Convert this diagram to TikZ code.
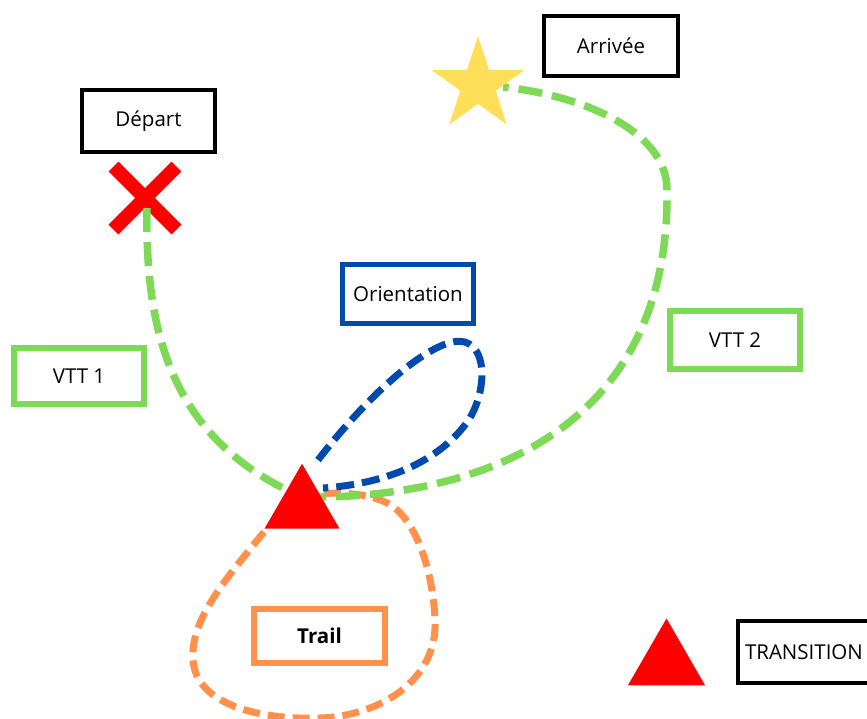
\documentclass[tikz,border=0pt]{standalone}
\usepackage{fontspec}
\setmainfont{Open Sans}
\usetikzlibrary{shapes.geometric,shapes.misc,calc}
\definecolor{vgreen}{HTML}{7ED957}
\definecolor{oblue}{HTML}{004AAD}
\definecolor{torange}{HTML}{FF914D}
\definecolor{syellow}{HTML}{FFDE59}
\definecolor{xred}{HTML}{FF0000}
\pgfdeclarelayer{xlayer}
\pgfdeclarelayer{lines}
\pgfsetlayers{xlayer,lines,main}
\begin{document}
\begin{tikzpicture}[x=1pt,y=-1pt,
  every node/.style={font=\fontsize{20.5}{24}\selectfont, inner sep=0pt, outer sep=0pt},
  labelbox/.style={draw, rectangle, align=center, fill=white},
  blackbox/.style={labelbox, draw=black, line width=4pt},
  greenbox/.style={labelbox, draw=vgreen, line width=6pt},
  bluebox/.style={labelbox, draw=oblue, line width=5pt},
  orangebox/.style={labelbox, draw=torange, line width=6pt},
  tribox/.style={regular polygon, regular polygon sides=3, fill=xred, draw=none},
  greenpath/.style={draw=vgreen, line width=7.5pt, dash pattern=on 24pt off 10pt},
  bluepath/.style={draw=oblue, line width=7pt, dash pattern=on 18pt off 8pt},
  orangepath/.style={draw=torange, line width=7pt, dash pattern=on 17pt off 8pt}
]
\useasboundingbox (0,0) rectangle (867,718);

% markers
\begin{pgfonlayer}{xlayer}
\node[cross out, draw=xred, line width=14pt, minimum size=63pt] (cross) at (145,198) {};
\end{pgfonlayer}
\node[star, star points=5, star point ratio=2.618, fill=syellow, minimum size=98pt] (star) at (478,85) {};
\node[tribox, minimum size=86.6pt] (tri) at (302,507) {};
\node[tribox, minimum size=89pt] (legtri) at (666.5,663) {};

% label boxes
\node[blackbox, minimum width=133pt, minimum height=62pt] (depart) at (148.5,121) {Départ};
\node[blackbox, minimum width=134pt, minimum height=60pt] (arrivee) at (611,46) {Arrivée};
\node[bluebox, minimum width=131pt, minimum height=59pt] (orient) at (408,294) {Orientation};
\node[greenbox, minimum width=130pt, minimum height=56pt] (vtt1) at (79,376) {VTT 1};
\node[greenbox, minimum width=130pt, minimum height=58pt] (vtt2) at (735,340) {VTT 2};
\node[orangebox, minimum width=131pt, minimum height=54pt, font=\fontsize{20.5}{24}\selectfont\bfseries] (trail) at (319.5,636) {Trail};
\node[blackbox, anchor=west, minimum height=62pt, text width=135pt, align=left, inner xsep=7pt] (trans) at (738,652) {TRANSITION};

% routes
\begin{pgfonlayer}{lines}
\draw[orangepath] ($(tri.center)+(-38,25)$) .. controls (225,580) and (190,620) .. (193,660)
  .. controls (196,705) and (260,720) .. (320,718)
  .. controls (380,716) and (438,680) .. (435,620)
  .. controls (433,570) and (415,515) .. (385,502)
  .. controls (365,493) and (340,492) .. ($(tri.center)+(16,-13)$);
\draw[greenpath] ($(cross.center)+(2,10)$) .. controls (145,330) and (170,440) .. ($(tri.center)+(0,-10)$);
\draw[greenpath] ($(tri.center)+(0,-10)$) .. controls (480,500) and (670,430) .. (667,190)
  .. controls (667,130) and (580,95) .. ($(star.center)+(25,2)$);
\draw[bluepath] ($(tri.center)+(16,-47)$) .. controls (380,380) and (440,335) .. (465,342)
  .. controls (490,350) and (485,400) .. (465,425)
  .. controls (430,470) and (370,485) .. ($(tri.center)+(21,-19)$);
\end{pgfonlayer}
\end{tikzpicture}
\end{document}
